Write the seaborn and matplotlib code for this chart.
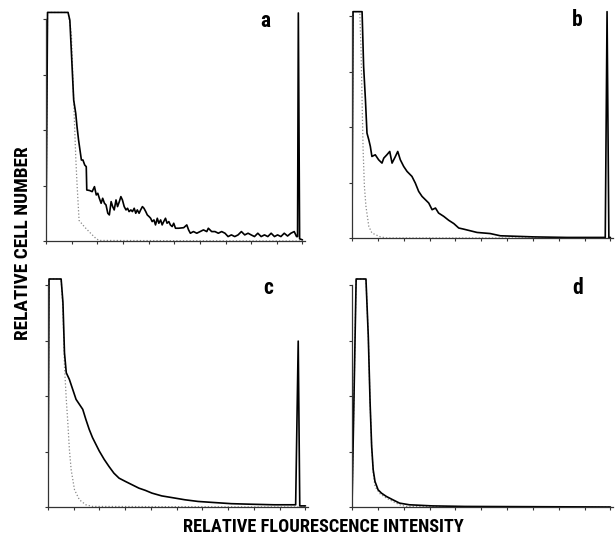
import numpy as np
import matplotlib
matplotlib.use('Agg')
import matplotlib.pyplot as plt
import seaborn as sns

# panel a
a_x = [0, 0.6, 8.6, 9.3, 10.8, 11.6, 12.1, 12.7, 13.8, 14.4, 15.1, 15.7, 15.9, 17.0, 18.0,
       18.9, 19.6, 20.2, 20.8, 21.5, 22.1, 22.8, 23.4, 24.1, 24.7, 25.4, 26.0, 26.6, 27.3,
       27.9, 28.6, 29.2, 29.8, 30.5, 31.2, 31.8, 32.4, 33.1, 33.7, 34.4, 35.0, 35.6, 36.3,
       36.9, 37.6, 38.2, 38.9, 39.5, 40.2, 40.8, 41.4, 42.1, 42.7, 43.4, 44.0, 44.7, 45.3,
       45.9, 46.6, 47.2, 47.9, 48.5, 49.2, 49.8, 50.5, 51.7, 53.7, 54.9, 55.6, 56.3, 57.5,
       58.8, 60.1, 61.4, 62.7, 63.3, 64.6, 65.9, 67.2, 68.5, 69.8, 71.0, 72.3, 73.6, 74.9,
       76.2, 77.5, 78.8, 80.0, 81.3, 82.6, 83.9, 85.2, 86.5, 87.8, 89.1, 90.3, 91.6, 92.9,
       94.2, 95.5, 96.8, 97.7, 98.1, 98.4, 98.9, 100]
a_solid = [0, 4.12, 4.12, 3.98, 2.54, 2.30, 2.06, 1.82, 1.46, 1.46, 1.37, 1.34, 0.92, 0.91, 0.89,
           0.98, 0.83, 0.86, 0.77, 0.68, 0.77, 0.68, 0.65, 0.50, 0.47, 0.71, 0.62, 0.56, 0.74,
           0.62, 0.71, 0.80, 0.74, 0.62, 0.56, 0.59, 0.53, 0.56, 0.53, 0.59, 0.50, 0.56, 0.50,
           0.56, 0.62, 0.59, 0.53, 0.47, 0.44, 0.41, 0.35, 0.38, 0.29, 0.41, 0.32, 0.38, 0.29,
           0.35, 0.41, 0.32, 0.35, 0.29, 0.26, 0.32, 0.23, 0.23, 0.24, 0.29, 0.20, 0.14, 0.17,
           0.14, 0.17, 0.20, 0.17, 0.23, 0.17, 0.17, 0.14, 0.17, 0.14, 0.08, 0.11, 0.08, 0.11,
           0.17, 0.11, 0.14, 0.11, 0.08, 0.14, 0.08, 0.11, 0.08, 0.14, 0.08, 0.11, 0.08, 0.14,
           0.09, 0.14, 0.17, 0.08, 0.08, 4.11, 0.04, 0.02]
a_dot_x = [0, 0.6, 8.6, 9.9, 10.8, 11.6, 12.1, 12.9, 15.1, 17.6, 19.6, 20.8, 100]
a_dot = [0, 4.12, 4.12, 3.74, 2.53, 1.51, 1.03, 0.37, 0.25, 0.13, 0.04, 0.01, 0]

# panel b
b_x = [0, 0.4, 3.9, 4.5, 5.2, 5.8, 6.5, 7.1, 7.7, 9.0, 10.3, 11.6, 12.3, 13.5, 14.6, 15.5,
       16.8, 17.7, 18.7, 20.0, 21.3, 23.2, 24.5, 25.8, 27.1, 28.4, 29.7, 31.0, 32.3, 33.5,
       35.5, 37.4, 39.4, 41.3, 43.2, 45.8, 48.4, 51.0, 53.5, 57.4, 63.9, 70.3, 83.2, 98.0,
       98.7, 99.4, 100]
b_solid = [0, 4.08, 4.08, 3.09, 2.49, 1.89, 1.77, 1.65, 1.47, 1.50, 1.41, 1.35, 1.44, 1.50, 1.56, 1.35,
           1.47, 1.56, 1.41, 1.29, 1.20, 1.11, 0.99, 0.84, 0.75, 0.69, 0.63, 0.51, 0.54, 0.45,
           0.39, 0.32, 0.26, 0.18, 0.16, 0.13, 0.10, 0.09, 0.08, 0.04, 0.03, 0.02, 0.01, 0.01,
           4.08, 0.01, 0.01]
b_dot_x = [0, 0.4, 3.0, 3.5, 3.9, 4.3, 4.8, 5.4, 6.5, 7.7, 11.0, 13.5, 100]
b_dot = [0, 4.08, 4.08, 3.39, 2.49, 1.59, 0.93, 0.57, 0.21, 0.09, 0.02, 0, 0]

# panel c
c_x = [0, 0.4, 5.1, 5.8, 6.4, 7.1, 8.3, 9.6, 10.9, 12.2, 13.5, 14.7, 16.0, 17.3, 18.6, 19.9,
       21.8, 23.7, 25.6, 27.6, 30.1, 32.7, 35.3, 37.8, 40.4, 44.2, 48.1, 53.2, 58.3, 64.7,
       71.2, 78.8, 87.8, 96.2, 97.2, 97.8, 100]
c_solid = [0, 4.11, 4.11, 3.69, 2.78, 2.42, 2.30, 2.12, 1.94, 1.85, 1.76, 1.58, 1.40, 1.25, 1.13, 1.01,
           0.86, 0.73, 0.61, 0.52, 0.46, 0.40, 0.34, 0.30, 0.25, 0.20, 0.17, 0.13, 0.10, 0.08,
           0.06, 0.05, 0.04, 0.04, 2.99, 0.02, 0.02]
c_dot_x = [0, 0.4, 5.1, 5.8, 6.4, 7.1, 7.7, 8.3, 9.0, 10.3, 12.2, 14.7, 17.3, 100]
c_dot = [0, 4.11, 4.11, 3.57, 2.54, 1.94, 1.52, 1.04, 0.67, 0.31, 0.13, 0.04, 0.01, 0]

# panel d
d_x = [0, 1.6, 5.4, 6.3, 7.0, 7.6, 8.2, 8.9, 10.1, 11.4, 13.3, 15.8, 18.4, 22.2, 31.0, 43.7, 100]
d_solid = [0, 4.11, 4.11, 3.08, 1.88, 1.10, 0.67, 0.46, 0.31, 0.25, 0.19, 0.13, 0.07, 0.04, 0.02, 0.01, 0]
d_dot_x = [0, 1.6, 5.4, 6.3, 7.0, 7.6, 8.2, 8.9, 10.8, 13.3, 15.8, 18.4, 20.9, 100]
d_dot = [0, 4.11, 4.11, 3.08, 1.88, 1.10, 0.62, 0.37, 0.24, 0.16, 0.10, 0.04, 0.01, 0]

panel_labels = ['a', 'b', 'c', 'd']
xlabel = 'RELATIVE FLOURESCENCE INTENSITY'
ylabel = 'RELATIVE CELL NUMBER'

sns.set_style('ticks')
plt.rcParams['font.family'] = ['Roboto Condensed', 'DejaVu Sans']
plt.rcParams['font.stretch'] = 'condensed'
plt.rcParams['text.color'] = 'black'

W, H = 615, 540
fig = plt.figure(figsize=(W / 100, H / 100), dpi=100)

# panel boxes in pixels: left, right, bottom
boxes = [(46, 305, 241), (352, 613, 238), (48, 308, 507), (352, 613, 507)]
plot_h = 233
label_pos = [(265, 21), (577, 20), (268, 288), (578, 288)]
series = [(a_x, a_solid, a_dot_x, a_dot),
          (b_x, b_solid, b_dot_x, b_dot),
          (c_x, c_solid, c_dot_x, c_dot),
          (d_x, d_solid, d_dot_x, d_dot)]

for (l, r, b), (sx, sy, dx, dy), lab, (tx, ty) in zip(boxes, series, panel_labels, label_pos):
    ax = fig.add_axes([l / W, 1 - b / H, (r - l) / W, plot_h / H])
    sns.lineplot(x=dx, y=dy, ax=ax, color='#888888', lw=0.9, linestyle=':',
                 estimator=None, sort=False)
    sns.lineplot(x=sx, y=sy, ax=ax, color='black', lw=1.2,
                 estimator=None, sort=False)
    ax.set_xlim(0, 101)
    ax.set_ylim(0, 4.2)
    ax.set_xticks(np.arange(0, 101, 10))
    ax.set_yticks([0, 1, 2, 3, 4])
    ax.set_xticklabels([])
    ax.set_yticklabels([])
    ax.tick_params(axis='both', length=2.5, width=0.8, color='#333333')
    ax.set_xlabel('')
    ax.set_ylabel('')
    sns.despine(ax=ax)
    ax.spines['left'].set_bounds(0, 4)
    for s in ['left', 'bottom']:
        ax.spines[s].set_linewidth(0.9)
        ax.spines[s].set_color('#333333')
    ax.patch.set_alpha(0)
    fig.text(tx / W, 1 - ty / H, lab, ha='center', va='center',
             fontsize=15.5, fontweight='heavy')

fig.text(23 / W, 1 - 243 / H, ylabel, rotation=90, ha='center', va='center',
         fontsize=13.9, fontweight='heavy')
fig.text(323 / W, 1 - 527 / H, xlabel, ha='center', va='center',
         fontsize=13.2, fontweight='heavy')

fig.savefig('out.png', dpi=100)
